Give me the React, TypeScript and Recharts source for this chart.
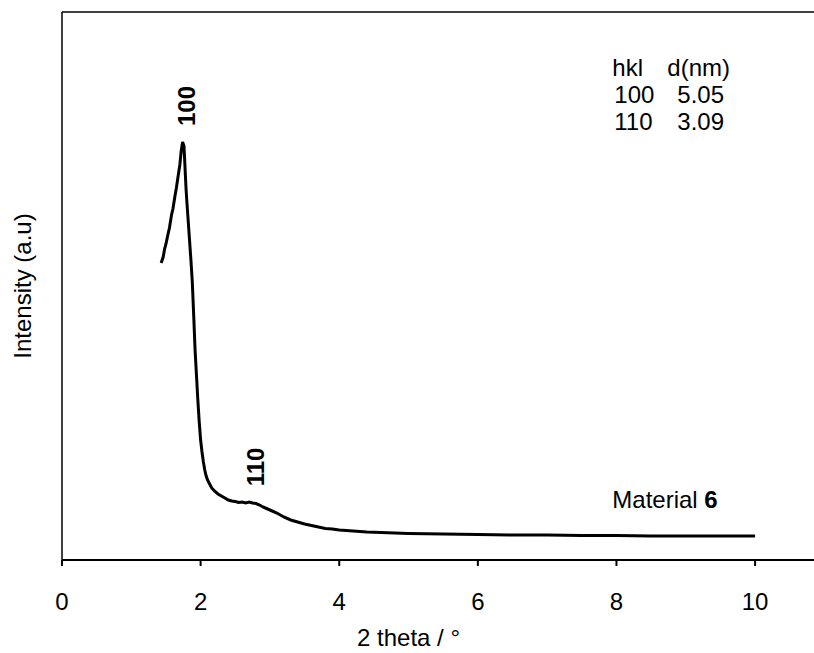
import React from 'react';
import { LineChart, Line, XAxis, YAxis, ReferenceLine, ReferenceDot } from 'recharts';

const twoTheta = [1.43, 1.46, 1.48, 1.5, 1.53, 1.55, 1.58, 1.6, 1.63, 1.65, 1.68, 1.7, 1.72, 1.74, 1.76, 1.77, 1.78, 1.79, 1.8, 1.82, 1.84, 1.86, 1.88, 1.9, 1.92, 1.94, 1.96, 1.98, 2.0, 2.02, 2.04, 2.06, 2.08, 2.1, 2.13, 2.16, 2.2, 2.25, 2.3, 2.35, 2.4, 2.45, 2.5, 2.55, 2.6, 2.65, 2.7, 2.75, 2.8, 2.85, 2.9, 2.95, 3.0, 3.1, 3.2, 3.3, 3.4, 3.5, 3.6, 3.7, 3.8, 3.9, 4.0, 4.2, 4.4, 4.6, 4.8, 5.0, 5.5, 6.0, 6.5, 7.0, 7.5, 8.0, 8.5, 9.0, 9.5, 10.0];
const intensity = [594, 606, 622, 632, 652, 664, 690, 702, 728, 744, 772, 790, 818, 836, 828, 800, 770, 742, 720, 680, 640, 600, 556, 490, 420, 370, 320, 276, 240, 216, 196, 180, 168, 160, 152, 144, 138, 132, 128, 124, 120, 118, 117, 115, 116, 114, 116, 114, 113, 110, 106, 103, 100, 94, 86, 80, 76, 72, 69, 66, 63, 62, 60, 58, 56, 55, 54, 53, 52, 51, 50, 50, 49, 49, 48, 48, 48, 48];
const xTicks = [0, 2, 4, 6, 8, 10];
const tableRows = [['hkl', 'd(nm)'], ['100', '5.05'], ['110', '3.09']];
const peakLabels = [
  { x: 1.75, y: 836, text: '100' },
  { x: 2.75, y: 114, text: '110' },
];

const data = twoTheta.map((t, i) => ({ t, v: intensity[i] }));
const FONT = 'Liberation Sans, Arial, sans-serif';
const FS = 24;

export default function App() {
  return (
    <div style={{ position: 'absolute', left: 0, top: 0 }}>
      <LineChart width={814} height={653} data={data} margin={{ top: 12, right: 0, left: 0, bottom: 0 }}>
        <XAxis
          dataKey="t"
          type="number"
          domain={[0, 10.85]}
          ticks={xTicks}
          allowDataOverflow
          height={93}
          stroke="#000"
          strokeWidth={2}
          tickSize={6}
          tickMargin={27}
          tick={{ fill: '#000', fontSize: FS, fontFamily: FONT }}
          label={{
            content: (props: any) => {
              const vb = props.viewBox;
              return (
                <text x={vb.x + (vb.width * 5) / 10.85} y={vb.y + 86} textAnchor="middle" fontSize={FS} fontFamily={FONT} fill="#000">
                  2 theta / °
                </text>
              );
            },
          }}
        />
        <YAxis
          type="number"
          domain={[0, 1096]}
          width={62}
          stroke="#000"
          strokeWidth={1.5}
          tick={false}
          tickLine={false}
          label={{
            content: (props: any) => {
              const vb = props.viewBox;
              const cx = 22;
              const cy = vb.y + vb.height / 2;
              return (
                <text x={cx} y={cy} transform={`rotate(-90 ${cx} ${cy})`} textAnchor="middle" dominantBaseline="central" fontSize={FS} fontFamily={FONT} fill="#000">
                  Intensity (a.u)
                </text>
              );
            },
          }}
        />
        <ReferenceLine y={1096} stroke="#000" strokeWidth={1.5} ifOverflow="visible" />
        <Line type="linear" dataKey="v" stroke="#000" strokeWidth={3} dot={false} isAnimationActive={false} />
        {peakLabels.map((p) => (
          <ReferenceDot
            key={p.text}
            x={p.x}
            y={p.y}
            r={1}
            fill="none"
            stroke="none"
            ifOverflow="visible"
            label={{
              content: (props: any) => {
                const vb = props.viewBox;
                const cx = vb.x + 1 + 3;
                const cy = vb.y + 1 - 36;
                return (
                  <text x={cx} y={cy} transform={`rotate(-90 ${cx} ${cy})`} textAnchor="middle" dominantBaseline="central" fontSize={FS} fontWeight="bold" fontFamily={FONT} fill="#000">
                    {p.text}
                  </text>
                );
              },
            }}
          />
        ))}
        <ReferenceDot
          x={7.94}
          y={984}
          r={1}
          fill="none"
          stroke="none"
          ifOverflow="visible"
          label={{
            content: (props: any) => {
              const vb = props.viewBox;
              const x0 = vb.x + 1;
              const y0 = vb.y + 1;
              return (
                <g fontSize={FS} fontFamily={FONT} fill="#000">
                  {tableRows.map((r, i) => (
                    <g key={i}>
                      <text x={x0 + (i === 0 ? 0 : 2)} y={y0 + 8 + i * 27}>{r[0]}</text>
                      <text x={x0 + (i === 0 ? 55 : 65)} y={y0 + 8 + i * 27}>{r[1]}</text>
                    </g>
                  ))}
                </g>
              );
            },
          }}
        />
        <ReferenceDot
          x={7.94}
          y={100}
          r={1}
          fill="none"
          stroke="none"
          ifOverflow="visible"
          label={{
            content: (props: any) => {
              const vb = props.viewBox;
              return (
                <text x={vb.x + 1} y={vb.y + 1 - 2} fontSize={FS} fontFamily={FONT} fill="#000">
                  Material <tspan fontWeight="bold">6</tspan>
                </text>
              );
            },
          }}
        />
      </LineChart>
    </div>
  );
}
